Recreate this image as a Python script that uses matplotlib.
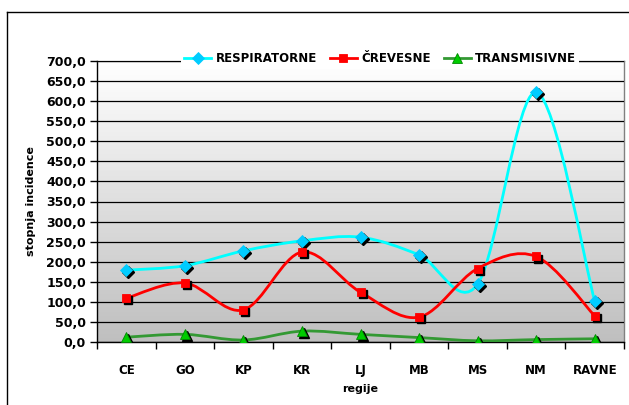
import numpy as np
import matplotlib.pyplot as plt
from matplotlib.path import Path
from matplotlib.patches import PathPatch
from matplotlib.lines import Line2D
from matplotlib.ticker import FuncFormatter, MultipleLocator, FixedLocator
import matplotlib.transforms as mtransforms

regije = ['CE', 'GO', 'KP', 'KR', 'LJ', 'MB', 'MS', 'NM', 'RAVNE']
respiratorne = [179, 190, 227, 252, 261, 217, 144, 622, 102]
crevesne = [109, 147, 80, 224, 124, 62, 183, 213, 65]
transmisivne = [12, 19, 5, 27, 19, 11, 3, 6, 8]


def smooth_path(x, y):
    # excel-like smoothed line: cubic bezier through the points
    pts = np.column_stack((x, y)).astype(float)
    n = len(pts)
    verts = [pts[0]]
    codes = [Path.MOVETO]
    for i in range(n - 1):
        p0 = pts[max(i - 1, 0)]
        p1 = pts[i]
        p2 = pts[i + 1]
        p3 = pts[min(i + 2, n - 1)]
        c1 = p1 + (p2 - p0) / 6.0
        c2 = p2 - (p3 - p1) / 6.0
        verts += [c1, c2, p2]
        codes += [Path.CURVE4] * 3
    return Path(verts, codes)


fig = plt.figure(figsize=(6.29, 4.05), dpi=100)
ax = fig.add_axes([97/629, 1-342/405, 527/629, 281/405])

font = {'family': 'DejaVu Sans', 'weight': 'bold'}

# gradient background
grad = np.linspace(0, 1, 256).reshape(-1, 1)
top = np.array([1.0, 1.0, 1.0])
bot = np.array([0.75, 0.75, 0.75])
img = top + (bot - top) * grad[:, :, None]
ax.imshow(img, extent=[0, 1, 0, 1], transform=ax.transAxes, aspect='auto', zorder=0)

x = np.arange(len(regije))
ax.set_xlim(-0.5, len(regije) - 0.5)
ax.set_ylim(0, 700)

series = [
    (respiratorne, '#00FFFF', 'D', '#00CCFF', 'RESPIRATORNE', 6.5),
    (crevesne, '#FF0000', 's', '#FF0000', 'ČREVESNE', 6),
    (transmisivne, '#339933', '^', '#00CC00', 'TRANSMISIVNE', 7),
]

shadow = mtransforms.offset_copy(ax.transData, fig=fig, x=1.5, y=-1.5, units='points')
handles = []
for vals, lc, mk, mc, lab, ms in series:
    p = smooth_path(x, vals)
    ax.add_patch(PathPatch(p, fill=False, edgecolor=lc, lw=2, zorder=3))
    ax.plot(x, vals, ls='none', marker=mk, ms=ms, color='black', transform=shadow, zorder=4)
    ax.plot(x, vals, ls='none', marker=mk, ms=ms, markerfacecolor=mc,
            markeredgecolor=mc if mk != '^' else '#008800', markeredgewidth=0.6, zorder=5)
    handles.append(Line2D([], [], color=lc, lw=2, marker=mk, ms=ms, markerfacecolor=mc,
                          markeredgecolor=mc if mk != '^' else '#008800', markeredgewidth=0.6))

ax.yaxis.set_major_locator(MultipleLocator(50))
ax.yaxis.set_major_formatter(FuncFormatter(lambda v, p: ('%.1f' % v).replace('.', ',')))
ax.yaxis.grid(True, color='black', lw=0.9, zorder=1)
ax.set_axisbelow(False)
ax.xaxis.set_major_locator(FixedLocator(x))
ax.set_xticklabels(regije, **font, fontsize=8.5)
ax.xaxis.set_minor_locator(FixedLocator(np.arange(-0.5, len(regije), 1)))
ax.tick_params(axis='x', which='major', length=0, pad=16)
ax.tick_params(axis='x', which='minor', length=5, width=1, color='black', direction='out')
ax.tick_params(axis='y', length=5, width=1, color='black', direction='out', pad=3)
for t in ax.get_yticklabels():
    t.set_fontweight('bold')
    t.set_fontsize(9)

for s in ['top', 'right']:
    ax.spines[s].set_color('#808080')
    ax.spines[s].set_linewidth(1)
for s in ['left', 'bottom']:
    ax.spines[s].set_color('black')
    ax.spines[s].set_linewidth(1)

ax.set_xlabel('regije', fontdict=font, fontsize=8, labelpad=5)
ax.set_ylabel('stopnja incidence', fontdict=font, fontsize=8, labelpad=7)

leg = ax.legend(handles, [s[4] for s in series], loc='center', bbox_to_anchor=(380/629, 1-59/405),
                bbox_transform=fig.transFigure, ncol=3, frameon=True, fancybox=False,
                edgecolor='none', facecolor='white', framealpha=1, prop=dict(weight='bold', size=8.5),
                handlelength=2.3, handletextpad=0.35, columnspacing=1.1, borderpad=0.3,
                borderaxespad=0)
leg.set_zorder(10)

# outer chart frame
fig.add_artist(Line2D([7/629, 7/629], [0, 1-12/405], color='black', lw=1, transform=fig.transFigure))
fig.add_artist(Line2D([7/629, 1], [1-12/405, 1-12/405], color='black', lw=1, transform=fig.transFigure))

fig.savefig('out.png', dpi=100)
